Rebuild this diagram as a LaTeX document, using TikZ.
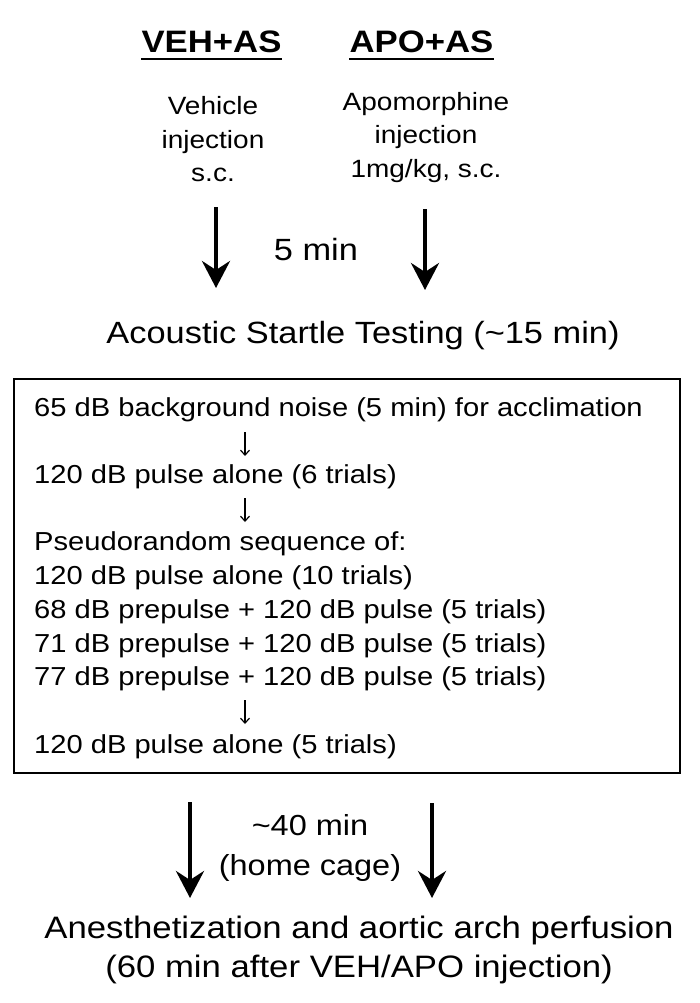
\documentclass[tikz,border=0pt]{standalone}
\usepackage{fontspec}
\setmainfont{Liberation Sans}[FakeStretch=1.12]
\usetikzlibrary{arrows.meta}
\begin{document}
\begin{tikzpicture}[x=1pt,y=-1pt,
  txt/.style={inner sep=0pt, anchor=base},
  head/.style={txt, font=\bfseries\fontsize{31}{36}\selectfont},
  mid/.style={txt, font=\fontsize{25}{30}\selectfont},
  big/.style={txt, font=\fontsize{30.7}{36}\selectfont},
  boxline/.style={inner sep=0pt, anchor=base west, font=\fontsize{26}{30}\selectfont},
  smallarrow/.style={line width=1.2pt, -{Straight Barb[length=5pt,width=9pt]}},
  bigarrow/.style={line width=4pt, -{Stealth[length=27pt,width=28pt,inset=9pt]}},
  frame/.style={draw, line width=1.8pt, inner sep=0pt, anchor=north west}
]
\useasboundingbox (0,0) rectangle (700,1003);

% headings
\node[head] (veh) at (211.5,53) {VEH+AS};
\node[head] (apo) at (421.5,53) {APO+AS};
\draw[line width=2.8pt] ([yshift=-6pt]veh.base west) -- ([yshift=-6pt]veh.base east);
\draw[line width=2.8pt] ([yshift=-6pt]apo.base west) -- ([yshift=-6pt]apo.base east);

% injections
\node[mid] (v1) at (213,115) {Vehicle};
\node[mid] (v2) at (213,149) {injection};
\node[mid] (v3) at (213,182) {s.c.};
\node[mid] (a1) at (426,111) {Apomorphine};
\node[mid] (a2) at (426,144) {injection};
\node[mid] (a3) at (426,178) {1mg/kg, s.c.};

% 5 min arrows
\coordinate (la0) at (216,207);
\coordinate (la1) at (216,288);
\coordinate (ra0) at (425,209);
\coordinate (ra1) at (425,290);
\draw[bigarrow] (la0) -- (la1);
\draw[bigarrow] (ra0) -- (ra1);
\node[big] (five) at (316,260) {5 min};

% testing heading
\node[big] (ast) at (363,343) {Acoustic Startle Testing (\textasciitilde15 min)};

% box
\node[frame, minimum width=666pt, minimum height=394pt] (box) at (13,378) {};
\node[boxline] (b1) at (34,416) {65 dB background noise (5 min) for acclimation};
\node[boxline] (b2) at (34,483) {120 dB pulse alone (6 trials)};
\node[boxline] (b3) at (34,550) {Pseudorandom sequence of:};
\node[boxline] (b4) at (34,584) {120 dB pulse alone (10 trials)};
\node[boxline] (b5) at (34,618) {68 dB prepulse + 120 dB pulse (5 trials)};
\node[boxline] (b6) at (34,652) {71 dB prepulse + 120 dB pulse (5 trials)};
\node[boxline] (b7) at (34,685) {77 dB prepulse + 120 dB pulse (5 trials)};
\node[boxline] (b8) at (34,753) {120 dB pulse alone (5 trials)};
\coordinate (s1a) at (245,432);
\coordinate (s1b) at (245,456);
\coordinate (s2a) at (245,498);
\coordinate (s2b) at (245,522);
\coordinate (s3a) at (245,700);
\coordinate (s3b) at (245,724);
\draw[smallarrow] (s1a) -- (s1b);
\draw[smallarrow] (s2a) -- (s2b);
\draw[smallarrow] (s3a) -- (s3b);

% 40 min arrows
\coordinate (lb0) at (190,802);
\coordinate (lb1) at (190,898);
\coordinate (rb0) at (432,803);
\coordinate (rb1) at (432,898);
\draw[bigarrow] (lb0) -- (lb1);
\draw[bigarrow] (rb0) -- (rb1);
\node[txt, font=\fontsize{29}{34}\selectfont] (forty) at (310,835) {\textasciitilde40 min};
\node[txt, font=\fontsize{29}{34}\selectfont] (cage) at (310,875) {(home cage)};

% final step
\node[txt, font=\fontsize{31}{36}\selectfont] (f1) at (359,938) {Anesthetization and aortic arch perfusion};
\node[txt, font=\fontsize{31}{36}\selectfont] (f2) at (359,977) {(60 min after VEH/APO injection)};
\end{tikzpicture}
\end{document}
